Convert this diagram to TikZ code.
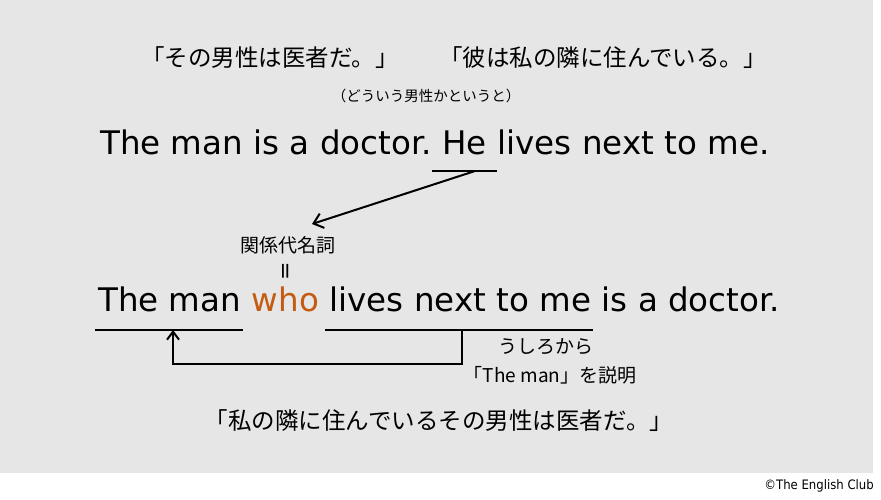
\documentclass[tikz,border=0pt]{standalone}
\usepackage{fontspec}
\setmainfont{DejaVu Sans}
\newfontfamily\jpfont{Noto Sans CJK JP}
\newfontfamily\condfont{DejaVu Sans Condensed}
\usepackage{tikz}
\usetikzlibrary{positioning, arrows.meta}
\definecolor{panelgray}{RGB}{230,230,230}
\definecolor{whoorange}{RGB}{197,90,17}
\tikzstyle{sentence} = [inner sep=0pt, font=\fontsize{32.5}{39}\selectfont]
\tikzstyle{jpbig} = [inner sep=0pt, font=\jpfont\fontsize{23.5}{28}\selectfont]
\tikzstyle{jpmid} = [inner sep=0pt, font=\jpfont\fontsize{19}{23}\selectfont]
\tikzstyle{jpsmall} = [inner sep=0pt, font=\jpfont\fontsize{14.5}{17}\selectfont]
\tikzstyle{uline} = [line width=1.5pt]
\tikzstyle{arrow} = [line width=2pt,-{Straight Barb[length=9pt, width=15pt]}]

\begin{document}
\begin{tikzpicture}[x=1pt, y=-1pt, node distance=10.3pt]
			\useasboundingbox (0,0) rectangle (881,500);
			\fill [panelgray] (0,0) rectangle (873,473);
			\node (jpdoc) [jpbig] at (270,58) {「その男性は医者だ。」};
			\node (jplive) [jpbig] at (603,58) {「彼は私の隣に住んでいる。」};
			\node (howman) [jpsmall] at (426,96) {（どういう男性かというと）};
			\node (doc) [sentence, anchor=base west] at (100,155) {The man is a doctor.};
			\node (he) [sentence, base right=of doc] {He};
			\node (lives) [sentence, base right=of he] {lives next to me.};
			\node (rel) [jpmid] at (288,245) {関係代名詞};
			\node (equals) [rotate=90, inner sep=0pt, font=\fontsize{22}{22}\selectfont] at (288,271) {=};
			\node (man) [sentence, anchor=base west] at (98,311) {The man};
			\node (who) [sentence, base right=of man, text=whoorange] {who};
			\node (clause) [sentence, base right=of who] {lives next to me};
			\node (isdoc) [sentence, base right=of clause] {is a doctor.};
			\node (behind) [jpmid] at (546,347) {うしろから};
			\node (explain) [jpmid] at (550,375) {「The man」を説明};
			\node (jpall) [jpbig] at (439,421) {「私の隣に住んでいるその男性は医者だ。」};
			\node (credit) [anchor=east, inner sep=0pt, font=\condfont\fontsize{13}{15}\selectfont] at (874,486) {©The English Club};
			\coordinate (heleft) at ([shift={(-10pt,-16pt)}]he.base west);
			\coordinate (heright) at ([shift={(10pt,-16pt)}]he.base east);
			\coordinate (hepoint) at ([xshift=-22pt]heright);
			\coordinate (relpoint) at ([shift={(24pt,12pt)}]rel.north);
			\coordinate (manmark) at ([shift={(75pt,-19pt)}]man.base west);
			\coordinate (clausemark) at ([shift={(133pt,-19pt)}]clause.base west);
			\draw [uline] (heleft) -- (heright);
			\draw [uline] ([shift={(-3pt,-19pt)}]man.base west) -- ([shift={(2pt,-19pt)}]man.base east);
			\draw [uline] ([shift={(-4pt,-19pt)}]clause.base west) -- ([shift={(2pt,-19pt)}]clause.base east);
			\draw [arrow] (hepoint) -- (relpoint);
			\draw [arrow, -{Straight Barb[length=8pt, width=12pt]}] (clausemark) -- ++(0,34) -| (manmark);
		\end{tikzpicture}
\end{document}
